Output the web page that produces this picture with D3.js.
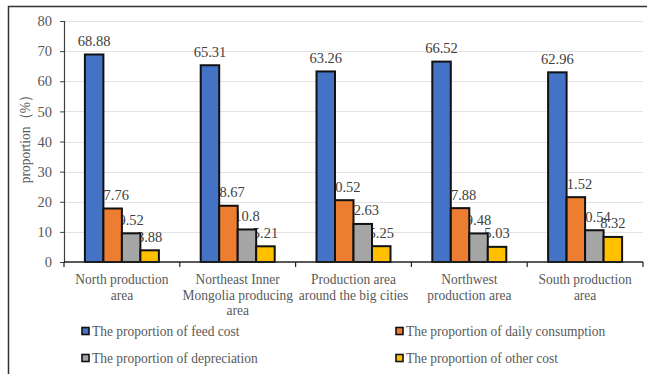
<!DOCTYPE html>
<html>
<head>
<meta charset="utf-8">
<script src="https://cdn.jsdelivr.net/npm/d3@7"></script>
<style>
  html, body { margin: 0; padding: 0; background: #fff; }
  svg { display: block; }
  text { font-family: "Liberation Serif", "Times New Roman", serif; }
</style>
</head>
<body>
<svg id="chart" width="647" height="374"></svg>
<script>
// Production regions (category axis), one label line per array entry
const categories = [
  ["North production", "area"],
  ["Northeast Inner", "Mongolia producing", "area"],
  ["Production area", "around the big cities"],
  ["Northwest", "production area"],
  ["South production", "area"]
];

// Cost components, in bar order within each region
const seriesNames = [
  "The proportion of feed cost",
  "The proportion of daily consumption",
  "The proportion of depreciation",
  "The proportion of other cost"
];
const seriesColors = ["#4472C4", "#ED7D31", "#A5A5A5", "#FFC000"];

// Share of total cost (%) per region, one array per component
const feedCost        = [68.88, 65.31, 63.26, 66.52, 62.96];
const dailyCost       = [17.76, 18.67, 20.52, 17.88, 21.52];
const depreciation    = [9.52, 10.8, 12.63, 9.48, 10.54];
const otherCost       = [3.88, 5.21, 5.25, 5.03, 8.32];
const seriesValues = [feedCost, dailyCost, depreciation, otherCost];

const yTicks = [0, 10, 20, 30, 40, 50, 60, 70, 80];

const svg = d3.select("#chart");
const plot = { left: 64, right: 643, top: 21, bottom: 262 };
const squeeze = 0.9;   // narrow serif text, as in the print layout

// Outer frame (top and left edges only)
svg.append("path")
  .attr("d", "M8.5,374 V6.5 H647")
  .attr("fill", "none")
  .attr("stroke", "#333")
  .attr("stroke-width", 1.5);

const y = d3.scaleLinear().domain([0, 80]).range([plot.bottom, plot.top]);
const x0 = d3.scaleBand()
  .domain(d3.range(categories.length))
  .range([plot.left, plot.right])
  .paddingInner(0.361)
  .paddingOuter(0.1805);
const x1 = d3.scaleBand()
  .domain(d3.range(seriesNames.length))
  .range([0, x0.bandwidth()]);

// Horizontal gridlines
svg.append("g")
  .selectAll("line")
  .data(yTicks.filter(d => d > 0))
  .join("line")
  .attr("x1", plot.left).attr("x2", plot.right)
  .attr("y1", d => Math.round(y(d)) + 0.5).attr("y2", d => Math.round(y(d)) + 0.5)
  .attr("stroke", "#e3e3e3")
  .attr("stroke-width", 1);

// Y axis
const yAxis = svg.append("g")
  .attr("transform", `translate(${plot.left},0)`)
  .call(d3.axisLeft(y).tickValues(yTicks).tickSize(4).tickPadding(8));
yAxis.select(".domain").attr("stroke", "#404040").attr("stroke-width", 1.2);
yAxis.selectAll(".tick line").attr("stroke", "#404040");
yAxis.selectAll(".tick text")
  .attr("fill", "#595959")
  .style("font-size", "14.5px")
  .style("font-family", "'Liberation Serif', serif");

// Y axis title
svg.append("text")
  .attr("transform", `translate(30,136) rotate(-90) scale(${squeeze},1)`)
  .attr("text-anchor", "middle")
  .attr("fill", "#595959")
  .style("font-size", "15px")
  .text("proportion（%）");

// Value labels sit underneath the bars
const labelLayer = svg.append("g");
const barLayer = svg.append("g");

const flat = [];
seriesValues.forEach((vals, s) => vals.forEach((v, c) => flat.push({ s, c, v })));

labelLayer.selectAll("text")
  .data(flat)
  .join("text")
  .attr("x", d => x0(d.c) + x1(d.s) + x1.bandwidth() / 2)
  .attr("y", d => y(d.v) - 8.5)
  .attr("text-anchor", "middle")
  .attr("fill", "#404040")
  .style("font-size", "14.5px")
  .text(d => d.v);

barLayer.selectAll("rect")
  .data(flat)
  .join("rect")
  .attr("x", d => x0(d.c) + x1(d.s))
  .attr("y", d => y(d.v))
  .attr("width", x1.bandwidth())
  .attr("height", d => y(0) - y(d.v))
  .attr("fill", d => seriesColors[d.s])
  .attr("stroke", "#111")
  .attr("stroke-width", 2);

// X axis with tick marks between regions
const xAxis = svg.append("g");
xAxis.append("line")
  .attr("x1", plot.left).attr("x2", plot.right)
  .attr("y1", plot.bottom).attr("y2", plot.bottom)
  .attr("stroke", "#222").attr("stroke-width", 1.5);
const boundaries = d3.range(categories.length + 1).map(i => plot.left + i * x0.step());
xAxis.selectAll("line.tick")
  .data(boundaries)
  .join("line")
  .attr("class", "tick")
  .attr("x1", d => d).attr("x2", d => d)
  .attr("y1", plot.bottom).attr("y2", plot.bottom + 5)
  .attr("stroke", "#222").attr("stroke-width", 1.2);

// Region labels
const catLabels = svg.append("g");
categories.forEach((lines, i) => {
  const cx = x0(i) + x0.bandwidth() / 2;
  lines.forEach((ln, j) => {
    catLabels.append("text")
      .attr("transform", `translate(${cx},${284 + j * 15.5}) scale(${squeeze},1)`)
      .attr("text-anchor", "middle")
      .attr("fill", "#595959")
      .style("font-size", "15px")
      .text(ln);
  });
});

// Legend, two columns
const legendPos = [
  { x: 82, y: 331 }, { x: 396, y: 331 },
  { x: 82, y: 358 }, { x: 396, y: 358 }
];
const legend = svg.append("g");
seriesNames.forEach((name, i) => {
  const p = legendPos[i];
  legend.append("rect")
    .attr("x", p.x).attr("y", p.y - 3.5)
    .attr("width", 7).attr("height", 7)
    .attr("fill", seriesColors[i])
    .attr("stroke", "#111").attr("stroke-width", 1.6);
  legend.append("text")
    .attr("transform", `translate(${p.x + 10},${p.y + 5}) scale(${squeeze},1)`)
    .attr("fill", "#595959")
    .style("font-size", "15px")
    .text(name);
});
</script>
</body>
</html>
